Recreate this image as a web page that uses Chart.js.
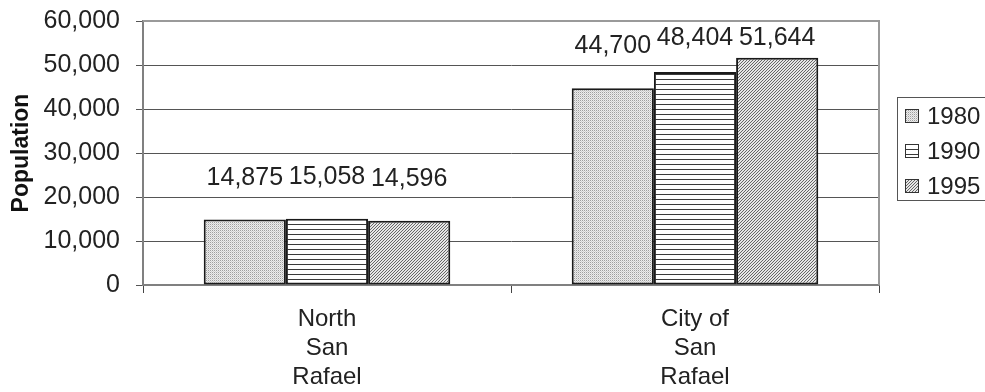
<!DOCTYPE html>
<html>
<head>
<meta charset="utf-8">
<script src="https://cdn.jsdelivr.net/npm/chart.js@4"></script>
<style>
  html, body { margin: 0; padding: 0; background: #fff; }
  #wrap { width: 985px; height: 392px; position: relative; }
</style>
</head>
<body>
<div id="wrap"><canvas id="popChart"></canvas></div>
<script>
// data
const places = [['North', 'San', 'Rafael'], ['City of', 'San', 'Rafael']];
const years = ['1980', '1990', '1995'];
const pop1980 = [14875, 44700];
const pop1990 = [15058, 48404];
const pop1995 = [14596, 51644];
const yTicks = [0, 10000, 20000, 30000, 40000, 50000, 60000];

const FONT = '"Liberation Sans", Arial, sans-serif';

// fill patterns like the old excel ones
function makePattern(kind) {
  const c = document.createElement('canvas');
  const g = c.getContext('2d');
  if (kind === 'dots') {
    c.width = 2; c.height = 2;
    g.fillStyle = '#ececec';
    g.fillRect(0, 0, 2, 2);
    g.fillStyle = '#9e9e9e';
    g.fillRect(0, 0, 1, 1);
    g.fillStyle = '#cfcfcf';
    g.fillRect(1, 1, 1, 1);
  } else if (kind === 'lines') {
    c.width = 4; c.height = 5;
    g.fillStyle = '#ffffff';
    g.fillRect(0, 0, 4, 5);
    g.fillStyle = '#3a3a3a';
    g.fillRect(0, 4, 4, 1);
  } else {
    c.width = 3; c.height = 3;
    g.fillStyle = '#e6e6e6';
    g.fillRect(0, 0, 3, 3);
    g.fillStyle = '#666';
    for (let i = 0; i < 3; i++) g.fillRect(2 - i, i, 1, 1);
  }
  return document.createElement('canvas').getContext('2d').createPattern(c, 'repeat');
}

const fills = [makePattern('dots'), makePattern('lines'), makePattern('hatch')];
const series = [pop1980, pop1990, pop1995];

const datasets = years.map((yr, i) => ({
  label: yr,
  data: series[i],
  backgroundColor: fills[i],
  borderColor: '#1a1a1a',
  borderWidth: 2,
  borderSkipped: false,
  barPercentage: 1,
  categoryPercentage: 0.67
}));

// value labels above bars
const valueLabels = {
  id: 'valueLabels',
  afterDatasetsDraw(chart) {
    const ctx = chart.ctx;
    const top = chart.chartArea.top;
    ctx.save();
    ctx.font = '25px ' + FONT;
    ctx.fillStyle = '#222';
    ctx.textAlign = 'center';
    ctx.textBaseline = 'alphabetic';
    chart.data.datasets.forEach((ds, di) => {
      chart.getDatasetMeta(di).data.forEach((bar, i) => {
        const y = Math.max(top + 24, bar.y - 35);
        ctx.fillText(ds.data[i].toLocaleString('en-US'), bar.x, y);
      });
    });
    ctx.restore();
  }
};

// top/right frame + boxed legend
const frameAndLegend = {
  id: 'frameAndLegend',
  afterDraw(chart) {
    const ctx = chart.ctx;
    const a = chart.chartArea;
    ctx.save();
    ctx.strokeStyle = '#9a9a9a';
    ctx.lineWidth = 2;
    ctx.beginPath();
    ctx.moveTo(a.left, a.top);
    ctx.lineTo(a.right, a.top);
    ctx.lineTo(a.right, a.bottom);
    ctx.stroke();

    // legend box
    ctx.strokeStyle = '#555';
    ctx.lineWidth = 1;
    ctx.strokeRect(897.5, 97.5, 100, 103);
    ctx.font = '24px ' + FONT;
    ctx.textBaseline = 'middle';
    ctx.textAlign = 'left';
    chart.data.datasets.forEach((ds, i) => {
      const cy = 116 + i * 35;
      ctx.fillStyle = ds.backgroundColor;
      ctx.fillRect(905, cy - 7, 14, 14);
      ctx.strokeStyle = '#333';
      ctx.strokeRect(905.5, cy - 6.5, 13, 13);
      ctx.fillStyle = '#222';
      ctx.fillText(ds.label, 927, cy + 1);
    });
    ctx.restore();
  }
};

new Chart(document.getElementById('popChart'), {
  type: 'bar',
  data: { labels: places, datasets: datasets },
  options: {
    responsive: true,
    maintainAspectRatio: false,
    animation: false,
    layout: { padding: { top: 21, right: 106, left: 0, bottom: 0 } },
    plugins: {
      legend: { display: false },
      tooltip: { enabled: false }
    },
    scales: {
      x: {
        offset: true,
        afterFit: s => { s.height = 107; s.paddingLeft = 0; s.paddingRight = 0; },
        grid: {
          display: true,
          offset: true,
          drawOnChartArea: false,
          drawTicks: true,
          tickLength: 8,
          color: '#444',
          lineWidth: 1
        },
        border: { display: true, color: '#808080', width: 2 },
        ticks: {
          color: '#222',
          padding: 12,
          maxRotation: 0,
          autoSkip: false,
          font: { family: FONT, size: 24, lineHeight: 1.2 }
        }
      },
      y: {
        min: 0,
        max: 60000,
        afterFit: s => { s.width = 143; s.paddingTop = 0; s.paddingBottom = 0; },
        afterBuildTicks: s => { s.ticks = yTicks.map(v => ({ value: v })); },
        grid: {
          color: '#555',
          lineWidth: 1,
          drawTicks: true,
          tickLength: 7
        },
        border: { display: true, color: '#808080', width: 2 },
        ticks: {
          color: '#222',
          padding: 16,
          font: { family: FONT, size: 25 },
          callback: v => v.toLocaleString('en-US')
        },
        title: {
          display: true,
          text: 'Population',
          color: '#111',
          padding: { top: 8, bottom: 0 },
          font: { family: FONT, size: 23, weight: 'bold' }
        }
      }
    }
  },
  plugins: [valueLabels, frameAndLegend]
});
</script>
</body>
</html>
